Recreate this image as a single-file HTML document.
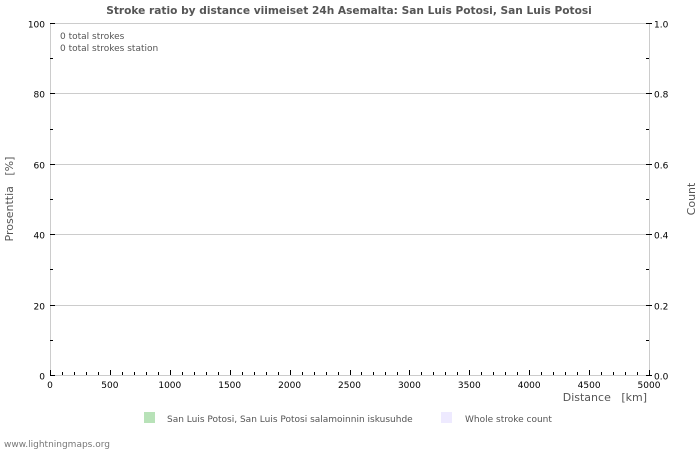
<!DOCTYPE html>
<html><head><meta charset="utf-8"><style>
html,body{margin:0;padding:0;background:#fff;}
svg{display:block;font-family:"DejaVu Sans","Liberation Sans",sans-serif;}
text{white-space:pre;}
</style></head><body>
<svg id="chart" width="700" height="450" xmlns="http://www.w3.org/2000/svg">
<rect width="700" height="450" fill="#fff"/>
<text x="349" y="14" text-anchor="middle" font-size="10.6" font-weight="bold" fill="#555">Stroke ratio by distance viimeiset 24h Asemalta: San Luis Potosi, San Luis Potosi</text>
<g id="grid"></g>
<g id="axes"></g>
<text x="60" y="39" font-size="9" fill="#555">0 total strokes</text>
<text x="60" y="51" font-size="9" fill="#555">0 total strokes station</text>
<text transform="translate(13,199) rotate(-90)" text-anchor="middle" font-size="11" fill="#555">Prosenttia   [%]</text>
<text transform="translate(695,199) rotate(-90)" text-anchor="middle" font-size="11" fill="#555">Count</text>
<text x="647" y="401" text-anchor="end" font-size="11" fill="#555">Distance   [km]</text>
<rect x="144" y="412" width="11" height="11" fill="#b8e2b8"/>
<text x="167" y="422" font-size="9" fill="#555">San Luis Potosi, San Luis Potosi salamoinnin iskusuhde</text>
<rect x="441" y="412" width="11" height="11" fill="#eeeaff"/>
<text x="465" y="422" font-size="9" fill="#555">Whole stroke count</text>
<text x="4" y="447" font-size="9" fill="#777">www.lightningmaps.org</text>
</svg>
<script>
const xTicks=[0,500,1000,1500,2000,2500,3000,3500,4000,4500,5000];
const yTicks=[0,20,40,60,80,100];
const yRightTicks=["0.0","0.2","0.4","0.6","0.8","1.0"];
const ratioValues=[];
const countValues=[];
const L=50,R=649,T=23,B=375;
const xs=v=>L+(R-L)*v/5000;
const ys=v=>B-(B-T)*v/100;
const NS="http://www.w3.org/2000/svg";
const grid=document.getElementById('grid'),axes=document.getElementById('axes');
function mk(tag,a,p){const e=document.createElementNS(NS,tag);for(const k in a)e.setAttribute(k,a[k]);p.appendChild(e);return e;}
yTicks.forEach((v,i)=>{
 const y=Math.round(ys(v))+0.5;
 if(v>0){const g=mk('line',{x1:L,x2:R,y1:y,y2:y,stroke:'#ccc'},grid);
 
 }
 const t=mk('text',{x:L-5,y:y+4,'text-anchor':'end','font-size':9,fill:'#000'},axes);t.textContent=v;
 
 
 const t2=mk('text',{x:R+5,y:y+4,'font-size':9,fill:'#000'},axes);t2.textContent=yRightTicks[i];
 
 
 mk('line',{x1:L,x2:L+5,y1:y,y2:y,stroke:'#000'},axes);
 mk('line',{x1:R-3,x2:R+3,y1:y,y2:y,stroke:'#000'},axes);
 if(v<100){const ym=Math.round(ys(v+10))+0.5;
 mk('line',{x1:L,x2:L+3,y1:ym,y2:ym,stroke:'#000'},axes);
 mk('line',{x1:R-3,x2:R,y1:ym,y2:ym,stroke:'#000'},axes);}
});
for(let d=0;d<=5000;d+=100){
 const x=Math.round(xs(d))+0.5;const maj=d%500===0;
 mk('line',{x1:x,x2:x,y1:B,y2:B-(maj?5:3),stroke:'#000'},axes);
}
xTicks.forEach(v=>{const t=mk('text',{x:xs(v),y:B+13,'text-anchor':'middle','font-size':9,fill:'#000'},axes);t.textContent=v;
 
 });
const f=mk('rect',{x:L+0.5,y:T+0.5,width:R-L,height:B-T,fill:'none',stroke:'#ccc'},grid);


</script>
</body></html>
